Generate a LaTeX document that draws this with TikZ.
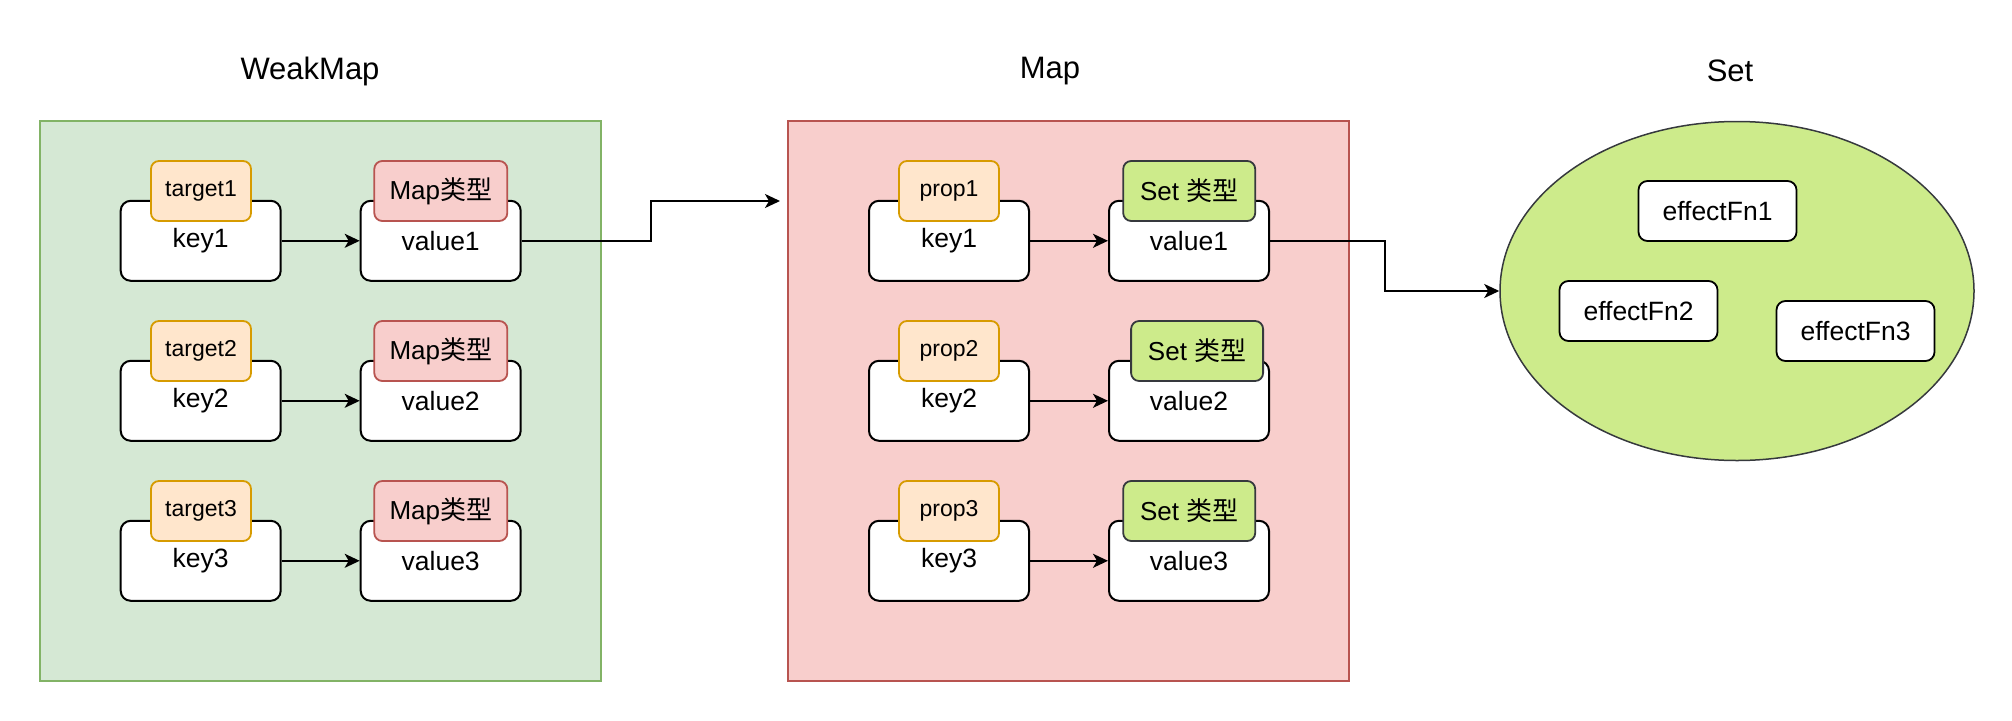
\documentclass[tikz,border=0pt]{standalone}
\usepackage{fontspec}
\setmainfont{Liberation Sans}
\newfontfamily\cjk{Noto Sans CJK SC}
\usepackage{tikz}
\usetikzlibrary{arrows.meta}
\usetikzlibrary{shapes.geometric}
\usepackage{xcolor}

\definecolor{wmfill}{HTML}{D5E8D4}
\definecolor{wmline}{HTML}{82B366}
\definecolor{mapfill}{HTML}{F8CECC}
\definecolor{mapline}{HTML}{B85450}
\definecolor{tabfill}{HTML}{FFE6CC}
\definecolor{tabline}{HTML}{D79B00}
\definecolor{setfill}{HTML}{CDEB8B}
\definecolor{setline}{HTML}{36393D}

\tikzset{
    title/.style={font=\fontsize{31pt}{36pt}\selectfont},
    wmbox/.style={draw=wmline, fill=wmfill, line width=1.5pt, minimum width=561pt, minimum height=560pt},
    mapbox/.style={draw=mapline, fill=mapfill, line width=1.5pt, minimum width=561pt, minimum height=560pt},
    setshape/.style={ellipse, draw=setline, fill=setfill, line width=1.5pt, inner sep=0pt, minimum width=474pt, minimum height=339pt},
    kvbox/.style={draw, fill=white, rounded corners=10pt, line width=2pt, minimum width=160pt, minimum height=80pt, font=\fontsize{26.5pt}{30pt}\selectfont},
    fnbox/.style={draw, fill=white, rounded corners=9pt, line width=1.8pt, minimum width=158pt, minimum height=60pt, font=\fontsize{26.5pt}{30pt}\selectfont},
    tabbox/.style={draw=tabline, fill=tabfill, rounded corners=8pt, line width=1.8pt, minimum width=100pt, minimum height=60pt, font=\fontsize{23pt}{26pt}\selectfont},
    maptab/.style={draw=mapline, fill=mapfill, rounded corners=8pt, line width=1.8pt, minimum width=133pt, minimum height=60pt, font=\fontsize{26pt}{30pt}\selectfont},
    settab/.style={draw=setline, fill=setfill, rounded corners=8pt, line width=1.8pt, minimum width=132pt, minimum height=60pt, font=\fontsize{26pt}{30pt}\selectfont},
    link/.style={-{Stealth[length=15pt, width=14pt, inset=4pt]}, line width=2pt},
}

\begin{document}
\begin{tikzpicture}[x=1pt, y=-1pt]
    \useasboundingbox (0,0) rectangle (2012,720);
    % titles
    \node[title] (wmtitle) at (310,71) {WeakMap};
    \node[title] (maptitle) at (1050,71) {Map};
    \node[title] (settitle) at (1730,71) {Set};
    % containers
    \node[wmbox] (weakmap) at (320.5,401) {};
    \node[mapbox] (map) at (1068.5,401) {};
    \node[setshape] (set) at (1737,291) {};
    % WeakMap entries
    \node[kvbox] (wk1) at (200.7,240.8) {key1};
    \node[kvbox] (wk2) at (200.7,400.8) {key2};
    \node[kvbox] (wk3) at (200.7,560.8) {key3};
    \node[kvbox] (wv1) at (440.7,240.8) {value1};
    \node[kvbox] (wv2) at (440.7,400.8) {value2};
    \node[kvbox] (wv3) at (440.7,560.8) {value3};
    \node[tabbox] (target1) at (201,191) {target1};
    \node[tabbox] (target2) at (201,351) {target2};
    \node[tabbox] (target3) at (201,511) {target3};
    \node[maptab] (wt1) at (440.8,191) {Map{\cjk 类型}};
    \node[maptab] (wt2) at (440.8,351) {Map{\cjk 类型}};
    \node[maptab] (wt3) at (440.8,511) {Map{\cjk 类型}};
    \draw[link] (wk1.east) -- (wv1.west);
    \draw[link] (wk2.east) -- (wv2.west);
    \draw[link] (wk3.east) -- (wv3.west);
    % Map entries
    \node[kvbox] (mk1) at (949,240.8) {key1};
    \node[kvbox] (mk2) at (949,400.8) {key2};
    \node[kvbox] (mk3) at (949,560.8) {key3};
    \node[kvbox] (mv1) at (1189,240.8) {value1};
    \node[kvbox] (mv2) at (1189,400.8) {value2};
    \node[kvbox] (mv3) at (1189,560.8) {value3};
    \node[tabbox] (prop1) at (949,191) {prop1};
    \node[tabbox] (prop2) at (949,351) {prop2};
    \node[tabbox] (prop3) at (949,511) {prop3};
    \node[settab] (mt1) at (1189.2,191) {Set {\cjk 类型}};
    \node[settab] (mt2) at (1197.1,351) {Set {\cjk 类型}};
    \node[settab] (mt3) at (1189.2,511) {Set {\cjk 类型}};
    \draw[link] (mk1.east) -- (mv1.west);
    \draw[link] (mk2.east) -- (mv2.west);
    \draw[link] (mk3.east) -- (mv3.west);
    % Set entries
    \node[fnbox] (fn1) at (1717.5,211) {effectFn1};
    \node[fnbox] (fn2) at (1638.5,311) {effectFn2};
    \node[fnbox] (fn3) at (1855.5,331) {effectFn3};
    % links between the collections
    \coordinate (mapin) at (780,201);
    \draw[link] (wv1.east) -- ++(129,0) |- (mapin);
    \draw[link] (mv1.east) -- ++(115,0) |- (set.west);
\end{tikzpicture}
\end{document}
